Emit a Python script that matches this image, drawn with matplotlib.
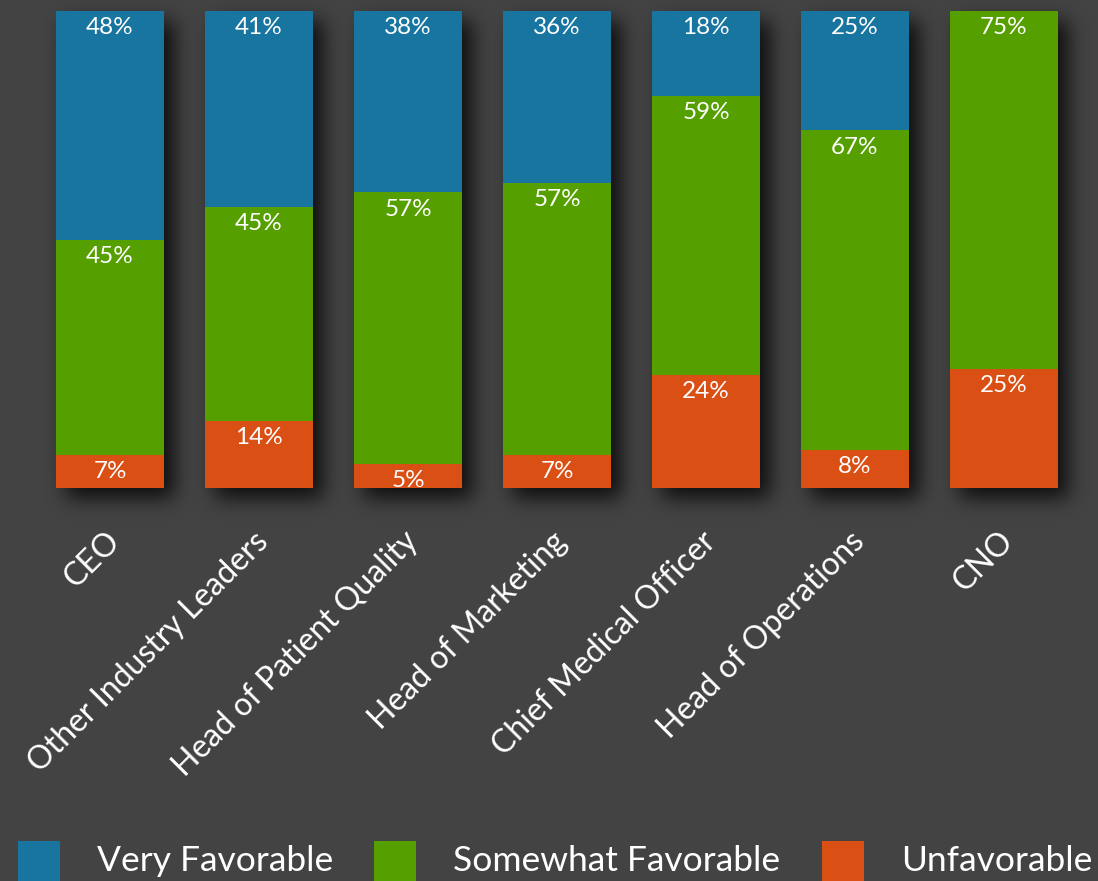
import numpy as np
import matplotlib
matplotlib.use("Agg")
import matplotlib.pyplot as plt
from matplotlib.patches import Rectangle
from matplotlib.transforms import ScaledTranslation

plt.rcParams['font.family'] = ['Lato', 'DejaVu Sans']

# survey shares per role (percent)
categories = ["CEO", "Other Industry Leaders", "Head of Patient Quality",
              "Head of Marketing", "Chief Medical Officer",
              "Head of Operations", "CNO"]
very_fav = [48, 41, 38, 36, 18, 25, 0]
somewhat_fav = [45, 45, 57, 57, 59, 67, 75]
unfav = [7, 14, 5, 7, 24, 8, 25]

series_names = ["Very Favorable", "Somewhat Favorable", "Unfavorable"]
series_colors = ["#17759f", "#55a000", "#d94f14"]

bg = "#434343"
W, H = 1098, 881

fig = plt.figure(figsize=(W / 100, H / 100), dpi=100, facecolor=bg)
ax = fig.add_axes([56 / W, 393 / H, 1002 / W, 477 / H])
ax.set_facecolor("none")

x = np.arange(len(categories))
width = 0.725

# stack bottom-up: unfavorable, somewhat, very -- scaled so each column fills 100
totals = np.array(very_fav) + np.array(somewhat_fav) + np.array(unfav)
stack = [unfav, somewhat_fav, very_fav]
stack_colors = [series_colors[2], series_colors[1], series_colors[0]]

bottom = np.zeros(len(categories))
all_bars = []
for vals, col in zip(stack, stack_colors):
    h = np.array(vals) / totals * 100
    bars = ax.bar(x, h, width, bottom=bottom, color=col, linewidth=0, zorder=2)
    all_bars.append(bars)
    for i, (v, hh) in enumerate(zip(vals, h)):
        if v > 0:
            ax.annotate(f"{v}%", xy=(x[i], bottom[i] + hh), xytext=(0, -4.5),
                        textcoords="offset points", ha="center", va="top",
                        color="white", fontsize=17.5, zorder=3)
    bottom = bottom + h

ax.set_xlim(-width / 2, len(categories) - 1 + width / 2)
ax.set_ylim(0, 100)
ax.set_yticks([])
for s in ax.spines.values():
    s.set_visible(False)
ax.set_xticks(x)
ax.set_xticklabels(categories, rotation=45, ha="right", va="center",
                   rotation_mode="anchor", color="white", fontsize=23)
ax.tick_params(axis="x", length=0, pad=35)
shift = ScaledTranslation(5 / 100, 0, fig.dpi_scale_trans)
for lab in ax.get_xticklabels():
    lab.set_transform(lab.get_transform() + shift)

# soft drop shadow behind each column
fig.canvas.draw()
mask = np.zeros((H, W))
dx, dy = 10, 10
for i in range(len(categories)):
    boxes = [b[i].get_window_extent() for b in all_bars]
    x0 = int(round(min(bb.x0 for bb in boxes)))
    x1 = int(round(max(bb.x1 for bb in boxes)))
    y0 = int(round(min(bb.y0 for bb in boxes)))
    y1 = int(round(max(bb.y1 for bb in boxes)))
    r0, r1 = H - y1, H - y0
    mask[max(r0 + dy, 0):min(r1 + dy, H), max(x0 + dx, 0):min(x1 + dx, W)] = 1

sigma = 10
k = np.arange(-3 * sigma, 3 * sigma + 1)
kern = np.exp(-k ** 2 / (2 * sigma ** 2))
kern /= kern.sum()
blur = np.apply_along_axis(lambda r: np.convolve(r, kern, mode="same"), 1, mask)
blur = np.apply_along_axis(lambda c: np.convolve(c, kern, mode="same"), 0, blur)

shadow = np.zeros((H, W, 4))
shadow[..., 3] = np.clip(blur * 0.8, 0, 1)
fig.figimage(shadow, xo=0, yo=0, origin="upper", zorder=-1)

# legend row along the bottom edge
patch_x = [18, 374, 822]
text_x = [97, 453, 901]
for px, tx, name, col in zip(patch_x, text_x, series_names, series_colors):
    fig.patches.append(Rectangle((px / W, -2 / H), 42 / W, 42 / H,
                                 transform=fig.transFigure, color=col,
                                 linewidth=0))
    fig.text(tx / W, 10 / H, name, color="white", fontsize=25.5,
             ha="left", va="baseline")

fig.savefig("out.png", dpi=100, facecolor=bg)
